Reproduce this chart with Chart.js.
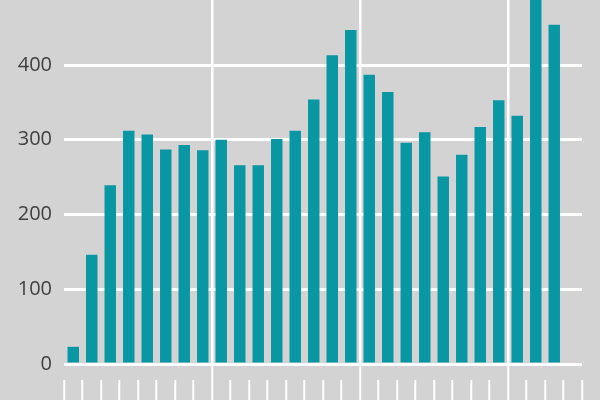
<!DOCTYPE html>
<html>
<head>
<meta charset="utf-8">
<script src="https://cdn.jsdelivr.net/npm/chart.js@4"></script>
<style>
  html, body { margin: 0; padding: 0; background: #d3d3d3; }
  #wrap { width: 600px; height: 400px; position: relative; background: #d3d3d3; }
</style>
</head>
<body>
<div id="wrap"><canvas id="c"></canvas></div>
<script>
// Categories: 28 slots in groups of 8 (last slot empty)
const categories = [
  "1","2","3","4","5","6","7","8",
  "9","10","11","12","13","14","15","16",
  "17","18","19","20","21","22","23","24",
  "25","26","27","28"
];
const values = [
  23, 146, 239, 312, 307, 287, 293, 286,
  300, 266, 266, 301, 312, 354, 413, 447,
  387, 364, 296, 310, 251, 280, 317, 353,
  332, 510, 454, null
];
const yTickValues = [0, 100, 200, 300, 400];
const groupSize = 8;

const WHITE = '#ffffff';

new Chart(document.getElementById('c'), {
  type: 'bar',
  data: {
    labels: categories,
    datasets: [{
      data: values,
      backgroundColor: '#0a97a4',
      borderWidth: 0,
      barPercentage: 0.62,
      categoryPercentage: 1.0
    }]
  },
  options: {
    responsive: true,
    maintainAspectRatio: false,
    animation: false,
    layout: { padding: { left: 0, right: 18, top: 0, bottom: 0 } },
    plugins: {
      legend: { display: false },
      tooltip: { enabled: false }
    },
    scales: {
      x: {
        type: 'category',
        offset: true,
        border: { display: false },
        afterFit: (axis) => { axis.paddingLeft = 0; axis.paddingRight = 0; },
        grid: {
          offset: true,
          drawOnChartArea: true,
          drawTicks: true,
          tickLength: 36,
          lineWidth: 2.5,
          tickWidth: 2,
          color: (ctx) => {
            const i = ctx.index;
            return (i % groupSize === 0 && i > 0 && i < categories.length) ? WHITE : 'rgba(0,0,0,0)';
          },
          tickColor: WHITE,
          tickBorderDash: (ctx) => {
            const i = ctx.index;
            return (i % groupSize === 0 && i > 0 && i < categories.length) ? [] : [0, 16, 40];
          }
        },
        ticks: { display: false }
      },
      y: {
        min: 0,
        max: 487,
        border: { display: false },
        afterBuildTicks: (axis) => {
          axis.ticks = yTickValues.map(v => ({ value: v }));
        },
        afterFit: (axis) => {
          axis.width = 64;
          axis.paddingTop = 0;
          axis.paddingBottom = 0;
        },
        grid: {
          color: WHITE,
          lineWidth: 3,
          drawTicks: false
        },
        ticks: {
          padding: 12,
          color: '#404040',
          font: { family: 'Open Sans', size: 20 },
          callback: (v) => String(v)
        }
      }
    }
  }
});
</script>
</body>
</html>
